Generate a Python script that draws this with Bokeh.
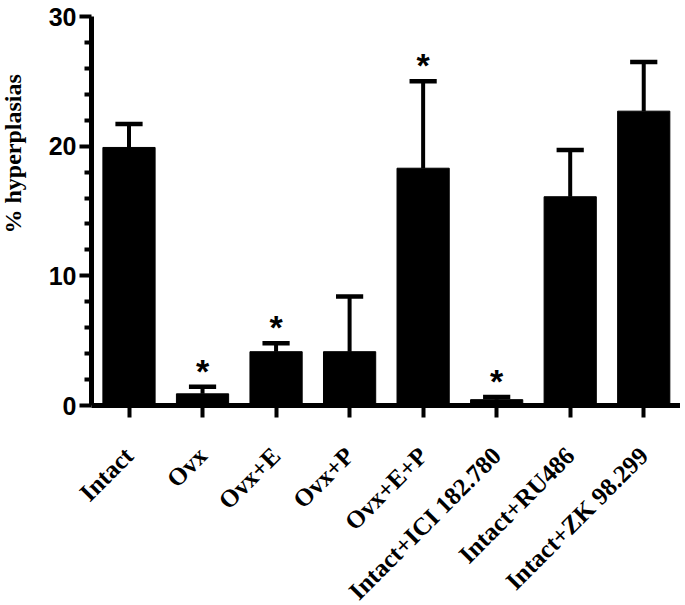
import math
from bokeh.plotting import figure
from bokeh.models import FixedTicker, Range1d, Title
from bokeh.core.properties import value
from bokeh.embed import file_html
from bokeh.resources import INLINE

categories = ["Intact", "Ovx", "Ovx+E", "Ovx+P", "Ovx+E+P",
              "Intact+ICI 182.780", "Intact+RU486", "Intact+ZK 98.299"]
means = [19.9, 0.9, 4.15, 4.15, 18.3, 0.45, 16.1, 22.7]
errors = [1.8, 0.55, 0.65, 4.25, 6.7, 0.2, 3.6, 3.8]
significant = [False, True, True, False, True, True, False, False]
y_ticks = [0, 10, 20, 30]
y_minor = [2, 4, 6, 8, 12, 14, 16, 18, 22, 24, 26, 28]

idx = list(range(len(categories)))
tops = [m + e for m, e in zip(means, errors)]
cap_half = 0.185

p = figure(frame_width=589, frame_height=389, output_backend="svg",
           toolbar_location=None,
           x_range=Range1d(-0.51, 7.50), y_range=Range1d(0, 30),
           min_border_left=91, min_border_right=0, min_border_top=16,
           min_border_bottom=196)
p.outline_line_color = None
p.xgrid.visible = False
p.ygrid.visible = False
p.background_fill_color = "white"
p.border_fill_color = "white"

# bars
p.vbar(x=idx, top=means, bottom=0, width=0.71, fill_color="black",
       line_color="black", line_width=1)

# error bars (upper only)
p.segment(x0=idx, y0=means, x1=idx, y1=tops, line_color="black", line_width=4)
p.segment(x0=[i - cap_half for i in idx], y0=tops,
          x1=[i + cap_half for i in idx], y1=tops,
          line_color="black", line_width=4.5)

# asterisks
sx = [i for i, s in zip(idx, significant) if s]
sy = [t for t, s in zip(tops, significant) if s]
p.text(x=sx, y=sy, text=["*"] * len(sx), text_align="center",
       text_baseline="alphabetic", y_offset=-16,
       text_font=value("Liberation Sans"), text_font_style="bold",
       text_font_size="34px", text_color="black")

# y axis
ya = p.yaxis[0]
ya.ticker = FixedTicker(ticks=y_ticks, minor_ticks=y_minor)
ya.axis_line_width = 5
ya.axis_line_color = "black"
ya.major_tick_line_width = 4
ya.major_tick_out = 12
ya.major_tick_in = 0
ya.minor_tick_line_width = 4
ya.minor_tick_out = 7
ya.minor_tick_in = 0
ya.major_label_standoff = 3
ya.major_label_text_font = "Liberation Sans"
ya.major_label_text_font_style = "bold"
ya.major_label_text_font_size = "25px"
ya.major_label_text_color = "black"

# x axis
xa = p.xaxis[0]
xa.ticker = FixedTicker(ticks=idx)
xa.major_label_overrides = {i: c for i, c in zip(idx, categories)}
xa.axis_line_width = 5
xa.axis_line_color = "black"
xa.major_tick_line_width = 4
xa.major_tick_out = 12
xa.major_tick_in = 0
xa.minor_tick_line_color = None
xa.major_label_orientation = math.pi / 4
xa.major_label_standoff = 34
xa.major_label_text_font = "Liberation Serif"
xa.major_label_text_font_style = "bold"
xa.major_label_text_font_size = "25px"
xa.major_label_text_color = "black"

# y axis title, placed above the axis centre like the reference
ytitle = Title(text="% hyperplasias", align="left", offset=172,
               text_font="Liberation Serif", text_font_style="bold",
               text_font_size="24px", text_color="black", standoff=0)
ytitle.padding = dict(left=0, right=0, top=0, bottom=20)
p.add_layout(ytitle, "left")

open("out.html", "w").write(file_html(p, INLINE))
